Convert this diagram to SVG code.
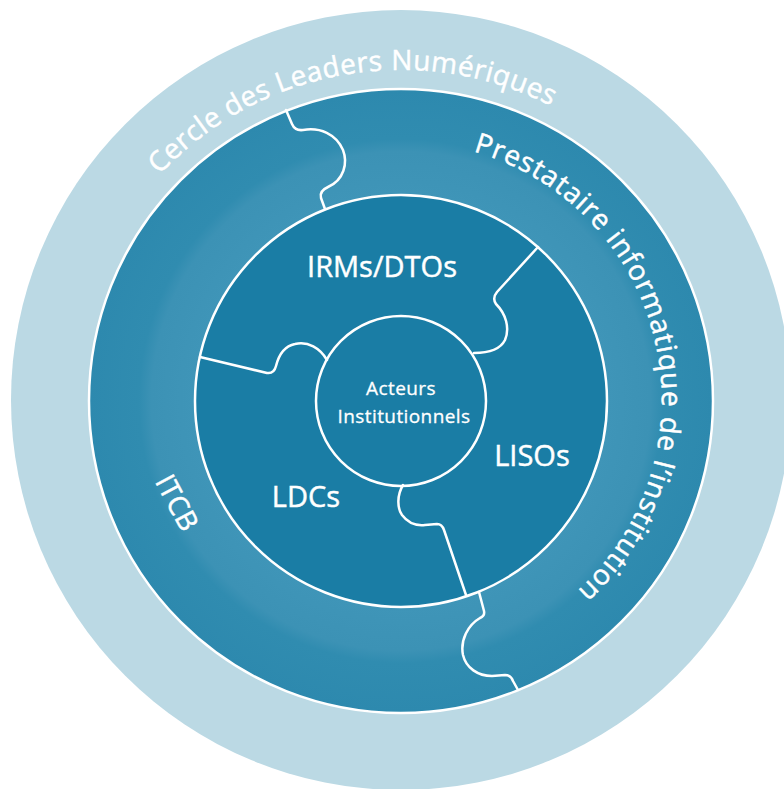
<svg xmlns="http://www.w3.org/2000/svg" width="784" height="789" viewBox="0 0 784 789">
<style>
.lbl{font-family:"Open Sans","Noto Sans",sans-serif;fill:#ffffff;stroke:#ffffff;stroke-width:0.45px;}
.big{font-size:29px;}
.ring{font-size:28px;}
.small{font-size:19px;letter-spacing:0.4px;stroke-width:0.3px;}
.div{fill:none;stroke:#ffffff;stroke-width:2.5;stroke-linejoin:round;stroke-linecap:round;}
.edge{fill:none;stroke:#ffffff;stroke-width:2.5;}
</style>
<defs>
<radialGradient id="midGrad" gradientUnits="userSpaceOnUse" cx="401" cy="401" r="312">
<stop offset="0.66" stop-color="#3F95B8"/>
<stop offset="0.80" stop-color="#3C92B5"/>
<stop offset="0.84" stop-color="#308CB0"/>
<stop offset="1" stop-color="#2D89AE"/>
</radialGradient>
<path id="arcOuter" d="M76,342.7 A330,330 0 0 1 726,342.7"/>
<path id="arcMid" d="M401,142 A258,258 0 0 1 489.2,643.4"/>
</defs>

<g id="cercle-leaders">
<circle cx="401" cy="400" r="390" fill="#BBD9E4"/>
<text class="lbl ring"><textPath href="#arcOuter" startOffset="190" letter-spacing="0.4">Cercle des Leaders</textPath></text>
<text class="lbl ring"><textPath href="#arcOuter" startOffset="451" letter-spacing="0.4">Numériques</textPath></text>
</g>

<g id="ring-middle">
<circle cx="401" cy="401" r="312" fill="url(#midGrad)"/>
<circle cx="401" cy="401" r="312" class="edge"/>
</g>

<g id="prestataire">
<text class="lbl ring"><textPath href="#arcMid" startOffset="73" letter-spacing="0.9">Prestataire</textPath></text>
<text class="lbl ring"><textPath href="#arcMid" startOffset="234" letter-spacing="0.9">informatique</textPath></text>
<text class="lbl ring"><textPath href="#arcMid" startOffset="424" letter-spacing="0.9">de</textPath></text>
<text class="lbl ring"><textPath href="#arcMid" startOffset="467" letter-spacing="0.9">l’institution</textPath></text>
</g>

<g id="itcb">
<text class="lbl ring" transform="translate(178,502) rotate(62)" text-anchor="middle" dominant-baseline="central">ITCB</text>
</g>

<g id="ring-inner">
<circle cx="401" cy="401" r="206" fill="#1A7DA5"/>
<circle cx="401" cy="401" r="206" class="edge"/>
</g>

<g id="irms-dtos">
<text class="lbl big" x="382" y="277" text-anchor="middle">IRMs/DTOs</text>
</g>
<g id="lisos">
<text class="lbl big" x="532" y="466" text-anchor="middle">LISOs</text>
</g>
<g id="ldcs">
<text class="lbl big" x="306" y="507" text-anchor="middle">LDCs</text>
</g>

<g id="acteurs-institutionnels">
<circle cx="401" cy="401" r="85" fill="#197CA4" class="edge"/>
<text class="lbl small" x="401" y="395" text-anchor="middle">Acteurs</text>
<text class="lbl small" x="404" y="423" text-anchor="middle">Institutionnels</text>
</g>

<g id="connectors">
<path class="div" d="M538,247 L497,292 Q492,298 496,304 C506,314 510,328 505,340 C500,350 488,353 474,353"/>
<path class="div" d="M200,357 L267,373 Q274,374 276,366 C279,354 285,346 295,344 C308,341 320,348 327,360"/>
<path class="div" d="M403,485 C397,495 397,508 402,515 C408,523 416,526 425,525 L437,524 Q442,524 444,530 L466,595"/>
<path class="div" d="M286,110 L292,124 Q295,131 303,130 C320,127 336,134 343,150 C348,163 344,180 328,187 Q319,191 321,198 L325,209"/>
<path class="div" d="M479,592 L484,611 Q485,616 480,618 C468,625 460,640 463,655 C466,668 478,676 492,676 L505,675 Q511,675 513,681 L518,690"/>
</g>
</svg>
